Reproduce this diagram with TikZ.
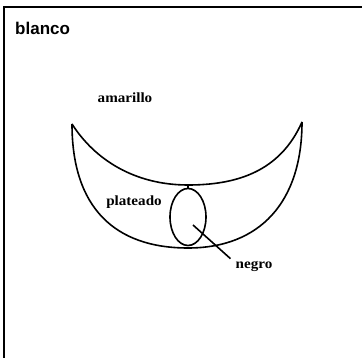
\documentclass[tikz,border=0pt]{standalone}
\usepackage{fontspec}
\usetikzlibrary{shapes.geometric}
\newfontfamily\labfont[FakeStretch=1.08]{Liberation Serif}
\newfontfamily\titfont{Liberation Sans}
\tikzset{
  ln/.style={line width=1.6pt, black},
  lab/.style={font=\labfont\bfseries\fontsize{14}{16}\selectfont, inner sep=0pt},
  tit/.style={font=\titfont\bfseries\fontsize{17}{19}\selectfont, inner sep=0pt, anchor=west},
}
\begin{document}
\begin{tikzpicture}[x=1pt,y=-1pt]
\useasboundingbox (0,0) rectangle (362,358);
\clip (0,0) rectangle (362,358);
\fill[white] (0,0) rectangle (362,358);
% frame
\draw[line width=1.6pt] (4,370) -- (4,7) -- (370,7);
% title
\node[tit] (blanco) at (15,28) {blanco};
% crescent
\draw[ln] (72,124) .. controls (72,208) and (115,248) .. (188,248)
          .. controls (260,248) and (302,202) .. (302,122);
\draw[ln] (72,124) .. controls (95,160) and (135,185) .. (188,185)
          .. controls (236,185) and (280,172) .. (302,122);
% small ellipse
\node[ellipse, draw, line width=1.6pt, minimum width=36pt, minimum height=57pt, inner sep=0pt] (hole) at (188,217) {};
\coordinate (arcbot) at (188,185);
\draw[ln] (arcbot) -- (hole.north);
% labels
\node[lab] (amarillo) at (125,98) {amarillo};
\node[lab] (plateado) at (134,202) {plateado};
\node[lab] (negro) at (254,266) {negro};
\coordinate (inhole) at (193,225);
\draw[ln] (inhole) -- ([xshift=-5pt,yshift=2pt]negro.north west);
\end{tikzpicture}
\end{document}
